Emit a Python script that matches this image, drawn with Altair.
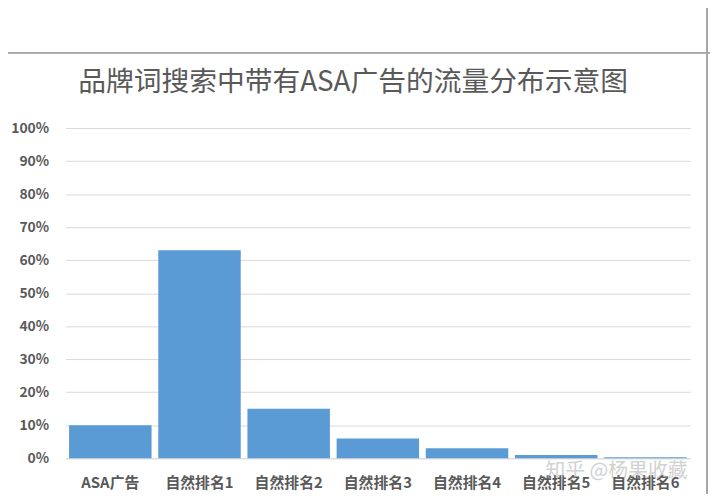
import altair as alt
import pandas as pd

categories = ["ASA广告", "自然排名1", "自然排名2", "自然排名3", "自然排名4", "自然排名5", "自然排名6"]
values = [0.10, 0.63, 0.15, 0.06, 0.03, 0.01, 0.003]
y_ticks = [0, 0.1, 0.2, 0.3, 0.4, 0.5, 0.6, 0.7, 0.8, 0.9, 1.0]
title_text = "品牌词搜索中带有ASA广告的流量分布示意图"
watermark = "知乎 @杨果收藏"

df = pd.DataFrame({"cat": categories, "val": values})
FONT = "Noto Sans CJK SC"
W, H = 630, 333

bars = alt.Chart(df).mark_bar(color="#5B9BD5").encode(
    x=alt.X("cat:N", sort=categories, title=None,
            scale=alt.Scale(paddingInner=0.075, paddingOuter=0.04),
            axis=alt.Axis(labelAngle=0, labelFont=FONT, labelFontSize=15,
                          labelFontWeight="bold", labelColor="#595959",
                          labelPadding=18, ticks=False, domainColor="#d9d9d9",
                          grid=False)),
    y=alt.Y("val:Q", title=None,
            scale=alt.Scale(domain=[0, 1], nice=False),
            axis=alt.Axis(values=y_ticks, format=".0%", labelFont=FONT,
                          labelFontSize=14, labelFontWeight="bold",
                          labelColor="#595959", labelPadding=17, ticks=False,
                          domain=False, gridColor="#d9d9d9", gridWidth=1)),
)

top_line = alt.Chart(df).mark_rule(color="#a6a6a6", strokeWidth=1.2).encode(
    x=alt.value(-66), x2=alt.value(650), y=alt.value(-76)
)
right_line = alt.Chart(df).mark_rule(color="#a6a6a6", strokeWidth=1.2).encode(
    x=alt.value(647), y=alt.value(-127), y2=alt.value(380)
)
title = alt.Chart(pd.DataFrame({"t": [title_text]})).mark_text(
    font=FONT, fontSize=28, color="#595959", align="center", baseline="middle"
).encode(text="t:N", x=alt.value(290), y=alt.value(-45))
wm = alt.Chart(pd.DataFrame({"t": [watermark]})).mark_text(
    font=FONT, fontSize=20, color="#9a9a9a", opacity=0.45, align="left", baseline="middle"
).encode(text="t:N", x=alt.value(484), y=alt.value(346))

chart = alt.layer(bars, top_line, right_line, title, wm).properties(
    width=W, height=H,
    background="white",
    autosize=alt.AutoSizeParams(type="none"),
    padding={"left": 58, "top": 119, "right": 22, "bottom": 34},
).configure_view(strokeWidth=0)

chart.save("out.html", embed_options={"renderer": "svg", "actions": False})
